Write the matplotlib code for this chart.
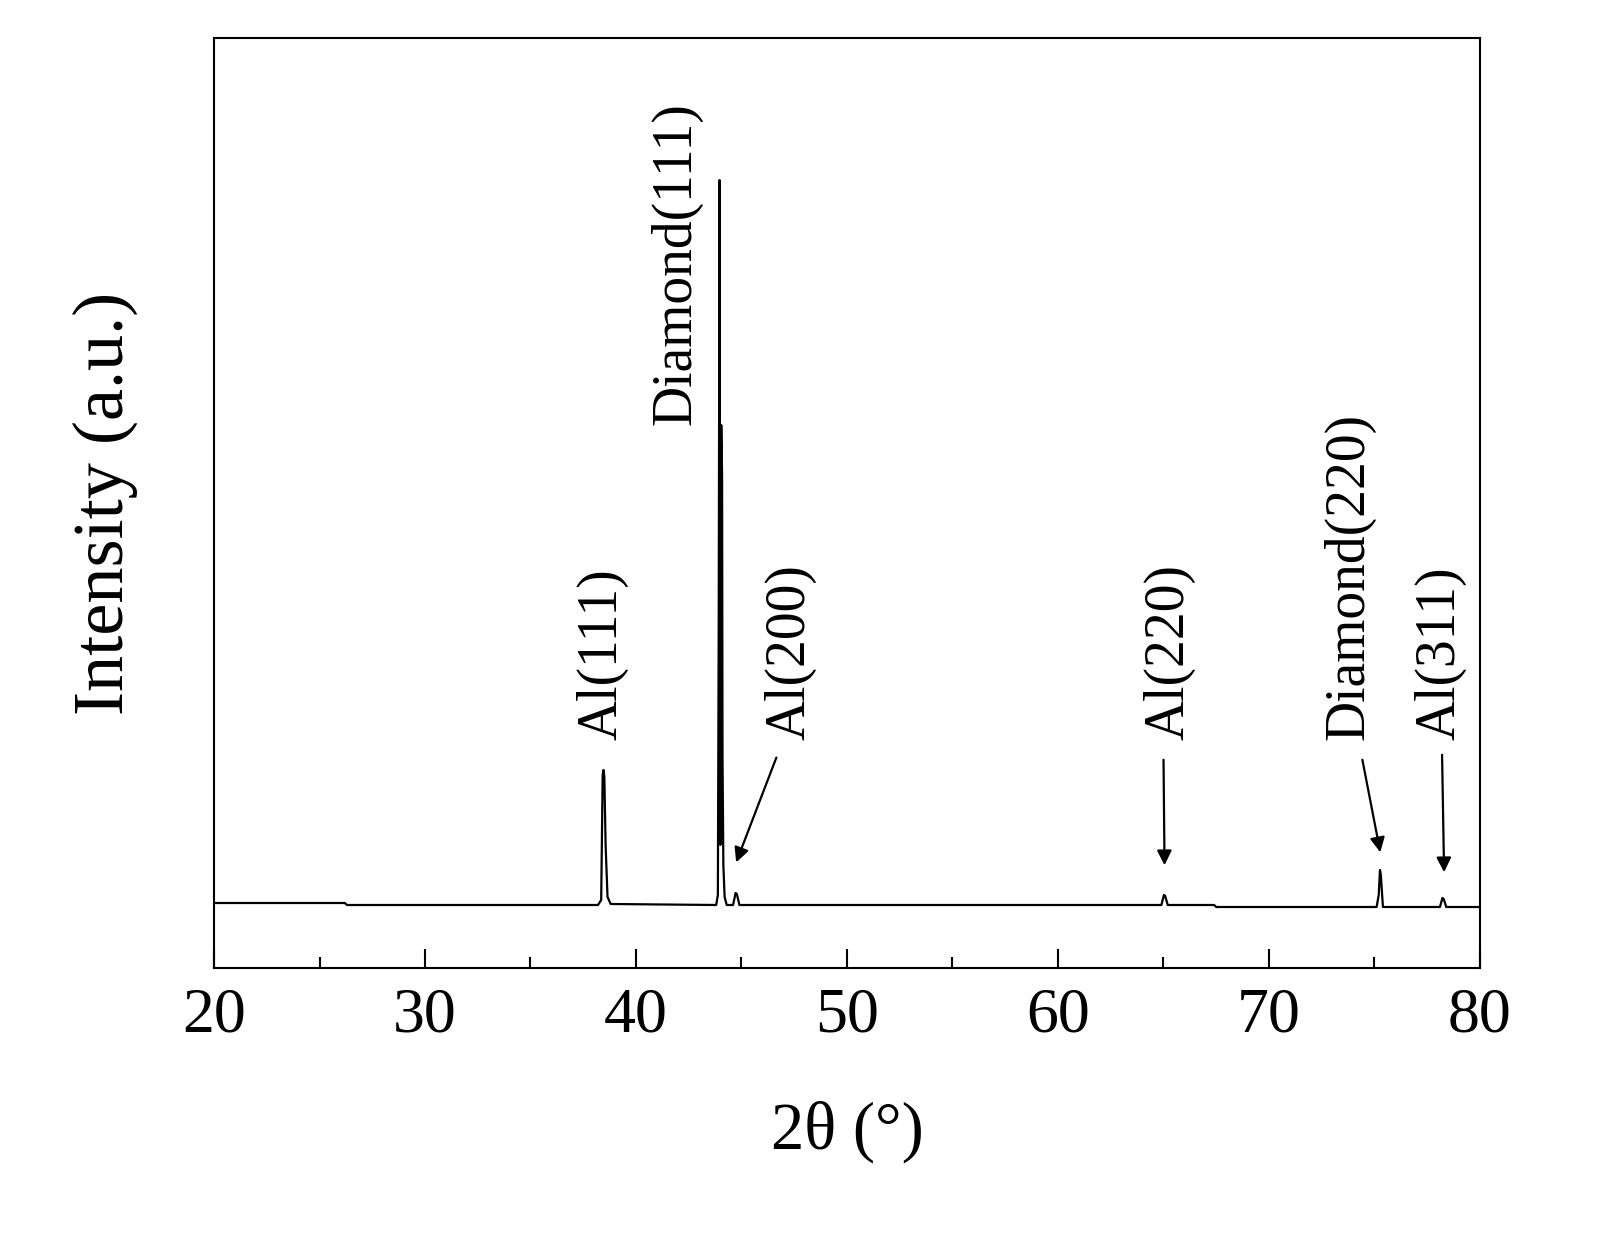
import matplotlib
matplotlib.use("Agg")
import matplotlib.pyplot as plt
from matplotlib.ticker import MultipleLocator

plt.rcParams['font.family'] = ['Liberation Serif', 'DejaVu Serif']

# XRD pattern sample points (2theta, intensity a.u.)
two_theta = [20, 26.2, 26.3, 38.2, 38.35, 38.42, 38.46, 38.5, 38.56, 38.65, 38.8,
             43.8, 43.88, 43.92, 43.96, 44.0, 44.04, 44.08, 44.1, 44.14, 44.2, 44.3,
             44.6, 44.72, 44.78, 44.9, 64.9, 65.02, 65.08, 65.2,
             67.4, 67.5, 75.1, 75.2, 75.26, 75.3, 75.4, 78.1, 78.22, 78.28, 78.4, 80]
intensity = [2, 2, 0, 0, 5, 130, 135, 128, 60, 8, 1,
             0, 10, 280, 725, 60, 480, 430, 150, 40, 8, 0,
             0, 12, 11, 0, 0, 10, 9, 0,
             0, -2, -2, 10, 35, 30, -2, -2, 7, 6, -2, -2]

labels = ["Al(111)", "Diamond(111)", "Al(200)", "Al(220)", "Diamond(220)", "Al(311)"]
label_x = [38.4, 41.9, 47.3, 65.3, 73.8, 78.1]
label_y = [165, 480, 165, 165, 165, 165]
arrow_from_x = [None, None, 46.7, 65.0, 74.4, 78.2]
arrow_from_y = [None, None, 150, 148, 148, 153]
arrow_to_x = [None, None, 44.7, 65.05, 75.3, 78.3]
arrow_to_y = [None, None, 40, 37, 50, 30]

fig = plt.figure(figsize=(16.08, 12.40), dpi=100)
ax = fig.add_axes([214/1608, 1-968/1240, (1480-214)/1608, (968-38)/1240])
ax.plot(two_theta, intensity, color='black', lw=1.6)
ax.set_xlim(20, 80)
ax.set_ylim(-63, 867)
ax.set_yticks([])
ax.xaxis.set_major_locator(MultipleLocator(10))
ax.xaxis.set_minor_locator(MultipleLocator(5))
ax.tick_params(axis='x', which='major', direction='in', length=14, width=1.5, labelsize=46, pad=14)
ax.tick_params(axis='x', which='minor', direction='in', length=8, width=1.5)
for s in ax.spines.values():
    s.set_linewidth(1.5)
ax.set_xlabel("2θ (°)", fontsize=48, labelpad=40)
ax.set_ylabel("Intensity (a.u.)", fontsize=52, labelpad=55)

for i, t in enumerate(labels):
    ax.text(label_x[i], label_y[i], t, rotation=90, fontsize=40, ha='center', va='bottom')
    if arrow_from_x[i] is not None:
        ax.annotate("", xy=(arrow_to_x[i], arrow_to_y[i]), xytext=(arrow_from_x[i], arrow_from_y[i]),
                    arrowprops=dict(arrowstyle='-|>', color='black', lw=1.6, mutation_scale=22))

fig.savefig("out.png", dpi=100)
